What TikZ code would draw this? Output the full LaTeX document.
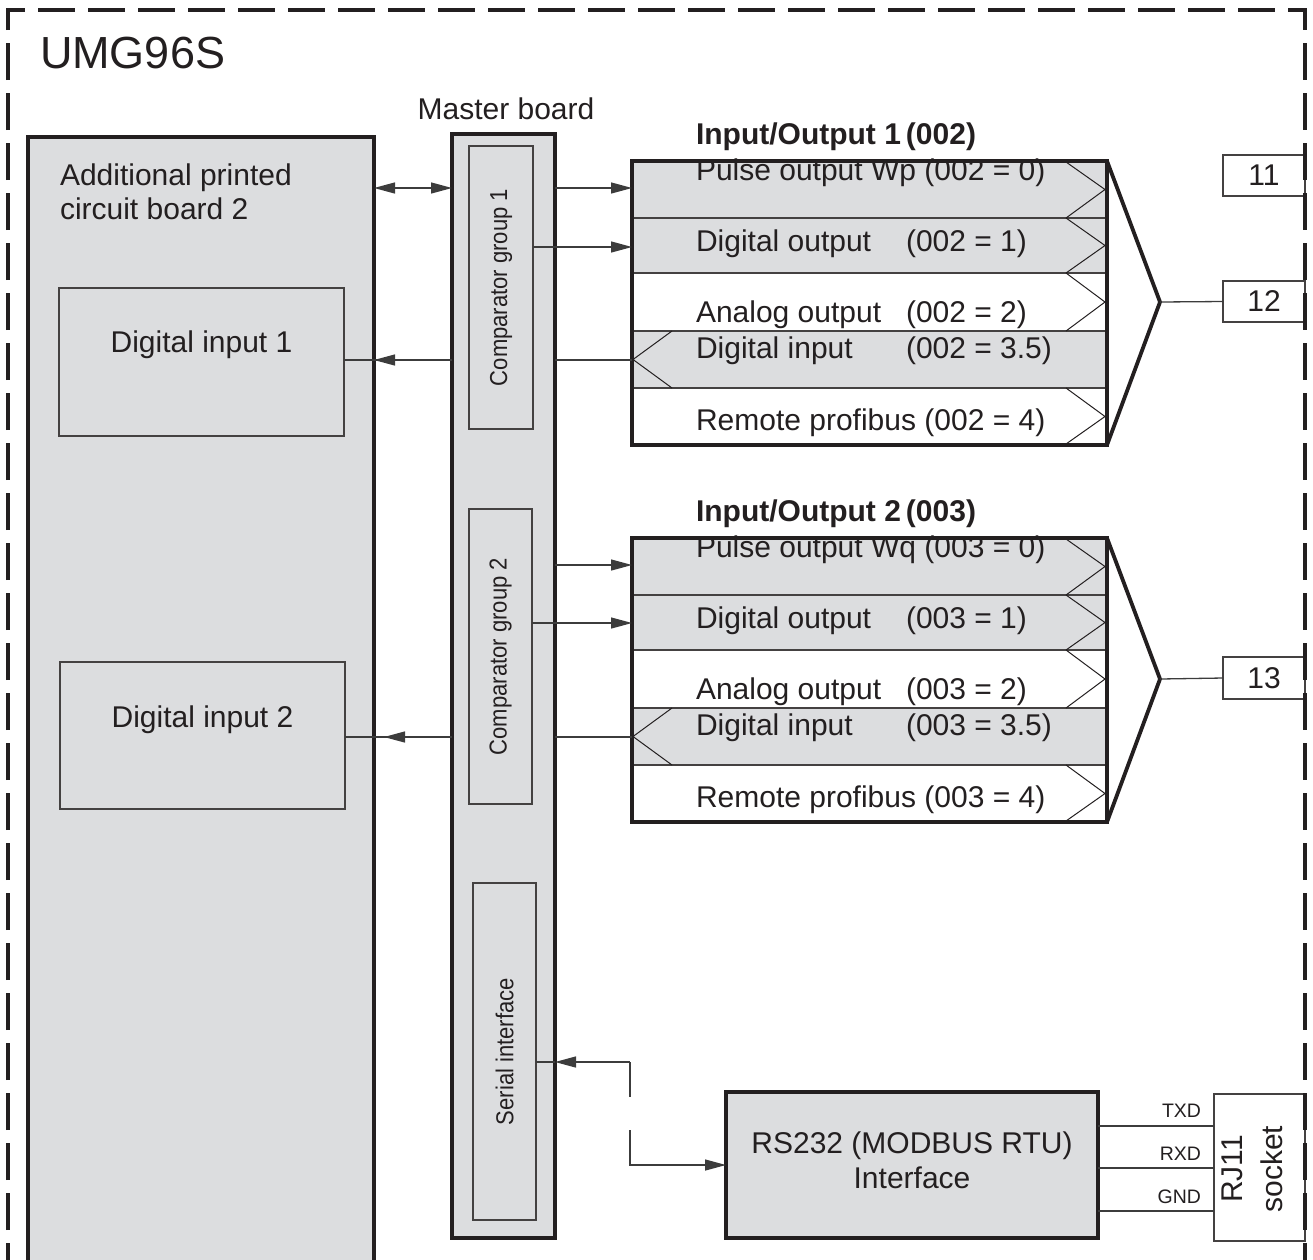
\documentclass[tikz,border=0pt]{standalone}
\usepackage{fontspec}
\setmainfont{Liberation Sans}
\newfontfamily\narrowsans[FakeStretch=0.9]{Liberation Sans}
\usetikzlibrary{arrows.meta}
\definecolor{boardgrey}{HTML}{DCDDDF}
\definecolor{ink}{HTML}{231F20}
\definecolor{wiregrey}{HTML}{3C3C3C}
\newcommand\szMain{\fontsize{30}{36}\selectfont}
\newcommand\szBig{\fontsize{45}{54}\selectfont}
\newcommand\szRot{\narrowsans\fontsize{24.5}{29}\selectfont}
\newcommand\szSig{\fontsize{19.5}{23}\selectfont}
\newcommand\szSock{\fontsize{30}{40}\selectfont}
\newcommand\ioblock[5]{%
\begin{scope}[shift={(0,#2)}]
\fill[boardgrey] (632,161) rectangle (1107,273);
\fill[boardgrey] (632,331) rectangle (1107,388);
\draw[rowline] (632,218) -- (1107,218);
\draw[rowline] (632,273) -- (1107,273);
\draw[rowline] (632,331) -- (1107,331);
\draw[rowline] (632,388) -- (1107,388);
\draw[chev] (1066,162) -- (1105,189.5) -- (1066,218);
\draw[chev] (1066,218) -- (1105,245.5) -- (1066,273);
\draw[chev] (1066,273) -- (1105,302) -- (1066,331);
\draw[chev] (1066,388) -- (1105,416.5) -- (1066,444);
\draw[chev] (672,331) -- (633,359.5) -- (672,388);
\node[txt] (#1ra) at (696,180) {Pulse output #5 (#4 = 0)};
\node[txt] (#1rb) at (696,251) {Digital output};
\node[txt] (#1rbc) at (906,251) {(#4 = 1)};
\node[txt] (#1rc) at (696,322) {Analog output};
\node[txt] (#1rcc) at (906,322) {(#4 = 2)};
\node[txt] (#1rd) at (696,358) {Digital input};
\node[txt] (#1rdc) at (906,358) {(#4 = 3.5)};
\node[txt] (#1re) at (696,430) {Remote profibus (#4 = 4)};
\node[txt,font={\szMain\bfseries}] (#1t) at (696,144) {Input/Output #3\hspace{5pt}(#4)};
\node[iobox] (#1) at (869.5,303) {};
\coordinate (#1apex) at (1160,302);
\draw[funnel] (#1.north east) -- (#1apex) -- (#1.south east);
\end{scope}}

\begin{document}
\begin{tikzpicture}[x=1pt,y=-1pt,
  every node/.style={inner sep=0pt,outer sep=0pt},
  txt/.style={anchor=base west,font=\szMain,text=ink,inner sep=0pt},
  rot/.style={rotate=90,font=\szRot,text=ink,inner sep=0pt},
  rowline/.style={draw=ink!85,line width=1.2pt},
  chev/.style={draw=ink,line width=1pt},
  iobox/.style={draw=ink,line width=3.8pt,minimum width=475pt,minimum height=284pt},
  funnel/.style={draw=ink,line width=3.8pt,line join=miter},
  wirestyle/.style={draw=wiregrey,line width=1.3pt},
  arr/.style={wirestyle,-{Triangle[length=21pt,width=11pt]}},
  dblarr/.style={wirestyle,{Triangle[length=21pt,width=11pt]}-{Triangle[length=21pt,width=11pt]}},
  heavybox/.style={draw=ink,line width=3.3pt,fill=boardgrey},
  subbox/.style={draw=ink!85,line width=1.2pt,fill=boardgrey},
  termbox/.style={draw=ink!85,line width=1.2pt,fill=white,font=\szMain,text=ink},
  frameline/.style={draw=ink,line width=3.8pt,dash pattern=on 37pt off 13pt,dash phase=30pt}
]
\useasboundingbox (0,0) rectangle (1313,1259);
\clip (0,0) rectangle (1313,1259);

% title
\node[txt,font=\szBig] (title) at (40,68) {UMG96S};

% additional board
\node[heavybox,minimum width=346pt,minimum height=1163pt] (board) at (201,718.5) {};
\node[txt] (addl1) at (60,185) {Additional printed};
\node[txt] (addl2) at (60,219) {circuit board 2};
\node[subbox,minimum width=285pt,minimum height=148pt] (di1) at (201.5,362) {};
\node[txt,anchor=base] (di1l) at (201.5,352) {Digital input 1};
\node[subbox,minimum width=285pt,minimum height=147pt] (di2) at (202.5,735.5) {};
\node[txt,anchor=base] (di2l) at (202.5,727) {Digital input 2};

% master board
\node[txt,anchor=base] (masterl) at (506,119) {Master board};
\node[heavybox,minimum width=103pt,minimum height=1104pt] (master) at (503.5,686) {};
\node[subbox,minimum width=64pt,minimum height=283pt] (comp1) at (501,287.5) {};
\node[rot] (comp1l) at (comp1.center) {Comparator group 1};
\node[subbox,minimum width=63pt,minimum height=295pt] (comp2) at (500.5,656.5) {};
\node[rot] (comp2l) at (comp2.center) {Comparator group 2};
\node[subbox,minimum width=63pt,minimum height=337pt] (serial) at (504.5,1051.5) {};
\node[rot] (seriall) at (serial.center) {Serial interface};

% IO blocks
\ioblock{io1}{0}{1}{002}{Wp}
\ioblock{io2}{377}{2}{003}{Wq}

% terminals
\node[termbox,minimum width=82pt,minimum height=41pt] (t11) at (1264,175.5) {11};
\node[termbox,minimum width=82pt,minimum height=41pt] (t12) at (1264,301.5) {12};
\node[termbox,minimum width=82pt,minimum height=42pt] (t13) at (1264,678) {13};
\draw[wirestyle] (io1apex) -- (t12.west);
\draw[wirestyle] (io2apex) -- (t13.west);

% connectors IO1
\draw[dblarr] (board.east |- 0,188) -- (master.west |- 0,188);
\draw[arr] (master.east |- 0,188) -- (io1.west |- 0,188);
\draw[arr] (comp1.east |- 0,247) -- (io1.west |- 0,247);
\draw[wirestyle] (io1.west |- 0,360) -- (master.east |- 0,360);
\draw[wirestyle] (master.west |- 0,360) -- (di1.east |- 0,360);
\draw[arr] (master.west |- 0,360) -- (board.east |- 0,360);

% connectors IO2
\draw[arr] (master.east |- 0,565) -- (io2.west |- 0,565);
\draw[arr] (comp2.east |- 0,623) -- (io2.west |- 0,623);
\draw[wirestyle] (io2.west |- 0,737) -- (master.east |- 0,737);
\draw[wirestyle] (master.west |- 0,737) -- (di2.east |- 0,737);
\draw[arr] (master.west |- 0,737) -- ([xshift=10pt]board.east |- 0,737);

% RS232
\node[heavybox,minimum width=372pt,minimum height=146pt] (rs) at (912,1165) {};
\node[txt,anchor=base] (rsl1) at (912,1153) {RS232 (MODBUS RTU)};
\node[txt,anchor=base] (rsl2) at (912,1188) {Interface};
\coordinate (bendA) at (630,1062);
\coordinate (breakA) at (630,1097);
\coordinate (breakB) at (630,1130);
\draw[wirestyle] (serial.east |- bendA) -- (master.east |- bendA);
\draw[arr] (bendA) -- (master.east |- bendA);
\draw[wirestyle] (bendA) -- (breakA);
\draw[arr] (breakB) -- (breakB |- rs.west) -- (rs.west);

% RJ11
\node[termbox,minimum width=91pt,minimum height=147pt] (rj) at (1259.5,1167.5) {};
\node[rot,font=\szSock,align=center] (rjl) at (1252,1169) {RJ11\\socket};
\draw[wirestyle] (rs.east |- 0,1126) -- (rj.west |- 0,1126);
\draw[wirestyle] (rs.east |- 0,1168) -- (rj.west |- 0,1168);
\draw[wirestyle] (rs.east |- 0,1211) -- (rj.west |- 0,1211);
\node[txt,font=\szSig,anchor=base east] (txd) at (1201,1117) {TXD};
\node[txt,font=\szSig,anchor=base east] (rxd) at (1201,1160) {RXD};
\node[txt,font=\szSig,anchor=base east] (gnd) at (1201,1203) {GND};

% outer dashed frame
\draw[frameline] (8,1300) -- (8,10) -- (1305,10) -- (1305,1300);
\end{tikzpicture}
\end{document}
